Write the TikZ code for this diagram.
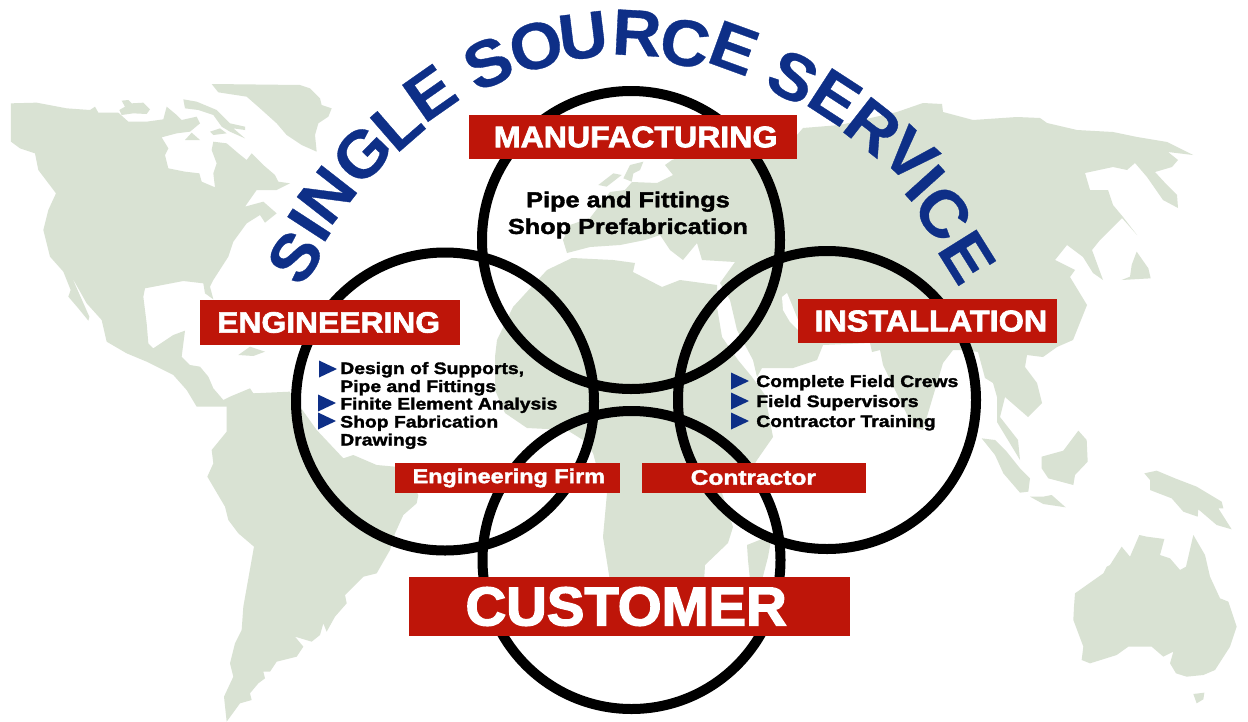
\documentclass[tikz,border=0pt]{standalone}
\usepackage{fontspec}
\setmainfont{Liberation Sans}
\newfontfamily\blk{Liberation Sans Bold}[FakeBold=2.2,FakeStretch=1.08]
\newfontfamily\blkw{Liberation Sans Bold}[FakeBold=1.8,FakeStretch=1.17]
\newfontfamily\blkc{Liberation Sans Bold}[FakeBold=2.6,FakeStretch=1.03]
\newfontfamily\ttl{Liberation Sans Bold}[FakeBold=0.5,FakeStretch=1.04]
\definecolor{land}{HTML}{D9E2D3}
\definecolor{lblred}{HTML}{BE1509}
\definecolor{ttlblue}{HTML}{0E2F87}
\tikzset{
 landfill/.style={fill=land,draw=none},
 seafill/.style={fill=white,draw=none},
 ring/.style={circle,draw=black,line width=7.5pt,minimum size=223.5pt,inner sep=0pt},
 redbox/.style={fill=lblred,text=white,inner sep=0pt,font=\blk,align=center},
 titlech/.style={text=ttlblue,inner sep=0pt,font=\ttl\fontsize{49}{49}\selectfont},
 bodytxt/.style={text=black,inner sep=0pt,anchor=base west,font=\blkw\fontsize{12.4}{12.4}\selectfont},
 tri/.style={fill=ttlblue,draw=none}
}
\newcommand{\mktri}[2]{\fill[tri] (#1,#2-8.5) -- (#1+18,#2) -- (#1,#2+8.5) -- cycle;}
\begin{document}
\begin{tikzpicture}[x=0.75pt,y=-0.75pt]
\useasboundingbox (0,0) rectangle (1248,721);
\fill[white] (0,0) rectangle (1248,721);
% ---- map: zoom-1 frame
\begin{scope}[shift={(0,60)},scale=1/3]
\fill[landfill] (33,130)--(110,128)--(200,145)--(270,150)--(285,140)--(295,158)--(355,158)--(385,185)--(440,185)--(490,178)--(500,140)--(530,165)--(545,180)--(590,170)--(600,190)--(570,215)--(530,220)--(485,232)--(505,265)--(495,285)--(505,325)--(555,335)--(598,340)--(605,365)--(645,382)--(640,340)--(650,310)--(635,270)--(640,245)--(680,250)--(715,280)--(740,300)--(755,280)--(790,315)--(825,345)--(835,365)--(870,370)--(830,390)--(770,390)--(735,440)--(790,425)--(830,460)--(795,488)--(780,465)--(740,490)--(700,545)--(685,590)--(640,660)--(630,680)--(640,718)--(615,700)--(610,670)--(550,663)--(435,685)--(430,710)--(440,790)--(445,850)--(460,865)--(520,825)--(555,812)--(545,890)--(570,915)--(600,920)--(625,950)--(640,985)--(670,1020)--(690,1010)--(750,985)--(760,1000)--(870,995)--(880,1040)--(590,1040)--(560,990)--(520,945)--(440,905)--(380,880)--(320,845)--(305,780)--(260,730)--(215,650)--(268,770)--(265,782)--(235,745)--(205,710)--(212,690)--(190,635)--(150,590)--(130,510)--(145,450)--(168,400)--(115,330)--(105,280)--(60,265)--(33,245)--cycle;
\fill[landfill] (635,72)--(900,75)--(930,85)--(960,115)--(965,135)--(995,145)--(985,170)--(955,190)--(945,225)--(950,275)--(905,255)--(860,225)--(830,190)--(780,145)--(740,110)--(655,97)--cycle;
\fill[landfill] (365,122)--(385,120)--(395,130)--(430,128)--(450,148)--(440,162)--(400,160)--(365,165)--(358,150)--(375,140)--cycle;
\fill[landfill] (550,118)--(590,125)--(650,150)--(690,190)--(735,200)--(735,210)--(700,205)--(735,235)--(690,215)--(665,200)--(640,165)--(595,150)--(555,145)--cycle;
\fill[landfill] (555,240)--(575,218)--(600,240)--cycle;
\fill[landfill] (630,215)--(660,205)--(680,220)--(640,225)--cycle;
\fill[landfill] (715,885)--(750,860)--(795,875)--(760,888)--cycle;
\end{scope}
% ---- South America: zoom-3 frame
\begin{scope}[shift={(130,400)},scale=1/3]
\fill[landfill] (290,15)--(300,-5)--(360,-20)--(490,-20)--(510,20)--(560,90)--(640,175)--(670,165)--(740,195)--(795,200)--(840,240)--(865,285)--(860,310)--(820,345)--(795,400)--(780,450)--(740,520)--(700,530)--(645,585)--(650,610)--(615,650)--(590,695)--(580,670)--(570,705)--(545,725)--(495,710)--(520,740)--(500,770)--(440,785)--(420,815)--(400,815)--(405,835)--(385,850)--(360,880)--(365,900)--(330,910)--(290,965)--(282,890)--(310,830)--(300,790)--(315,730)--(335,690)--(340,620)--(372,440)--(325,400)--(295,360)--(285,320)--(232,230)--(250,190)--(245,150)--(290,95)--cycle;
\end{scope}
% ---- Eurasia (picture pixels)
\fill[landfill] (563,240)--(570,225)--(590,218)--(600,205)--(610,192)--(625,190)--(632,182)--(657,183)--(673,175)--(665,165)--(672,160)--(700,150)--(790,140)--(797,135)--(803,128)--(840,125)--(897,112)--(923,103)--(942,104)--(943,112)--(973,120)--(1017,117)--(1040,118)--(1047,123)--(1077,130)--(1113,132)--(1137,137)--(1167,142)--(1193,155)--(1168,152)--(1178,160)--(1172,167)--(1155,172)--(1167,185)--(1177,195)--(1178,208)--(1163,200)--(1147,177)--(1135,163)--(1127,170)--(1113,167)--(1085,173)--(1090,190)--(1108,190)--(1113,205)--(1123,217)--(1137,235)--(1122,218)--(1100,240)--(1092,250)--(1103,280)--(1093,273)--(1083,257)--(1067,245)--(1055,260)--(1075,270)--(1070,277)--(1087,305)--(1073,340)--(1057,347)--(1043,357)--(1027,355)--(1025,367)--(1037,383)--(1042,403)--(1028,417)--(1005,397)--(1000,417)--(1018,440)--(1020,460)--(997,422)--(997,397)--(993,383)--(985,378)--(978,352)--(965,350)--(953,350)--(943,363)--(923,430)--(913,427)--(883,365)--(880,350)--(872,352)--(870,343)--(823,345)--(817,360)--(793,368)--(762,368)--(757,377)--(753,360)--(737,330)--(730,300)--(720,283)--(735,262)--(702,260)--(697,243)--(683,260)--(670,250)--(660,235)--(645,240)--(620,245)--(590,247)--(567,253)--cycle;
\fill[seafill] (782,297)--(787,293)--(792,305)--(798,320)--(798,330)--(790,322)--(783,310)--cycle;
% ---- Europe islands: zoom-7 frame
\begin{scope}[shift={(480,90)},scale=1/3]
\fill[landfill] (355,285)--(400,250)--(425,255)--(380,290)--cycle;
\fill[landfill] (430,265)--(450,225)--(490,215)--(480,240)--(460,250)--(455,275)--cycle;
\end{scope}
% ---- Africa
\fill[landfill] (572,258)--(613,260)--(635,263)--(633,272)--(662,287)--(680,280)--(717,285)--(717,307)--(722,337)--(738,360)--(752,377)--(765,395)--(773,437)--(757,460)--(745,480)--(722,493)--(733,527)--(728,543)--(705,565)--(703,600)--(613,600)--(603,537)--(607,493)--(603,490)--(593,453)--(583,440)--(567,430)--(527,428)--(505,413)--(495,390)--(495,357)--(497,340)--(513,307)--(547,270)--cycle;
\fill[landfill] (747,545)--(772,535)--(768,557)--(762,580)--(750,580)--(748,560)--cycle;
% ---- SE Asia, Oceania: zoom-4 frame
\begin{scope}[shift={(900,380)},scale=1/3]
\fill[landfill] (245,175)--(285,180)--(320,215)--(360,265)--(390,295)--(385,335)--(360,338)--(310,280)--(285,225)--cycle;
\fill[landfill] (425,230)--(490,212)--(535,152)--(560,180)--(563,245)--(525,285)--(520,315)--(445,295)--(425,265)--cycle;
\fill[landfill] (390,350)--(430,350)--(455,345)--(497,382)--(430,372)--cycle;
\fill[landfill] (733,280)--(770,272)--(825,295)--(890,320)--(965,365)--(970,385)--(955,385)--(995,448)--(950,435)--(895,388)--(893,410)--(850,395)--(815,355)--(750,330)--(750,300)--cycle;
\fill[landfill] (525,640)--(610,580)--(620,560)--(630,555)--(665,500)--(690,530)--(718,465)--(740,470)--(793,477)--(780,525)--(810,535)--(840,570)--(858,560)--(880,465)--(915,525)--(930,590)--(960,655)--(985,665)--(1010,740)--(990,800)--(945,870)--(910,885)--(860,890)--(828,880)--(810,850)--(820,815)--(790,830)--(755,800)--(685,800)--(650,825)--(570,850)--(545,840)--(550,800)--(520,720)--(522,680)--cycle;
\fill[landfill] (880,942)--(913,938)--(910,958)--(890,970)--cycle;
\end{scope}
% ---- Japan: zoom-2 frame
\begin{scope}[shift={(760,60)},scale=1/3]
\fill[landfill] (1085,660)--(1110,650)--(1115,615)--(1130,575)--(1165,625)--(1172,655)--cycle;
\end{scope}
% ---- rings
\node[ring] (ringM) at (631,240) {};
\node[ring] (ringE) at (445,401.5) {};
\node[ring] (ringI) at (827,400) {};
\node[ring] (ringC) at (631.5,560) {};
% ---- red labels
\node[redbox,minimum width=246pt,minimum height=33pt,font=\blk\fontsize{22.3}{22.3}\selectfont] (lblM) at (633,137) {\kern4pt MANUFACTURING};
\node[redbox,minimum width=195pt,minimum height=33.5pt,font=\blk\fontsize{22.1}{22.1}\selectfont] (lblE) at (330,322.5) {\kern-2pt ENGINEERING};
\node[redbox,minimum width=194pt,minimum height=33pt,font=\blk\fontsize{22.5}{22.5}\selectfont] (lblI) at (927.5,321) {\kern5pt INSTALLATION};
\node[redbox,minimum width=331pt,minimum height=44pt,font=\blkc\fontsize{41}{41}\selectfont] (lblC) at (629.5,606.5) {\kern-5pt CUSTOMER};
\node[redbox,minimum width=169pt,minimum height=22.5pt,font=\blkw\fontsize{15}{15}\selectfont] (lblF) at (507.5,478) {\kern2pt Engineering Firm};
\node[redbox,minimum width=168pt,minimum height=22.5pt,font=\blkw\fontsize{15.7}{15.7}\selectfont] (lblK) at (754,477.5) {\kern-1pt Contractor};
% ---- body text
\node[inner sep=0pt,font=\blkw\fontsize{16.2}{20}\selectfont,align=center] (bodyM) at (628,215) {Pipe and Fittings\\Shop Prefabrication};
\node[bodytxt] (e1) at (340,374) {Design of Supports,};
\node[bodytxt] (e2) at (340,392) {Pipe and Fittings};
\node[bodytxt] (e3) at (340,409.5) {Finite Element Analysis};
\node[bodytxt] (e4) at (340,427.5) {Shop Fabrication};
\node[bodytxt] (e5) at (340,445.5) {Drawings};
\node[bodytxt] (i1) at (756,387) {Complete Field Crews};
\node[bodytxt] (i2) at (756,407) {Field Supervisors};
\node[bodytxt] (i3) at (756,427) {Contractor Training};
\mktri{319}{369}\mktri{318}{403}\mktri{318}{421}
\mktri{731}{381}\mktri{731}{401}\mktri{731}{421}
% ---- arched title
\foreach \l/\x/\y/\r [count=\i] in {
 S/295/257/55, I/309/225/57, N/327/195/52, G/362/154/46, L/397/124/41, E/430/93/35,
 S/488/63/24, O/536/46/16, U/583/36/7, R/637/33/-3, C/685/43/-10, E/734/48/-20,
 S/793/77/-28, E/835/97/-33, R/873/127/-38, V/910/155/-43, I/925/183/-48, C/943/213/-50, E/967/257/-58}
 \node[titlech,rotate=\r] (title\i) at (\x,\y) {\l};
\end{tikzpicture}
\end{document}
